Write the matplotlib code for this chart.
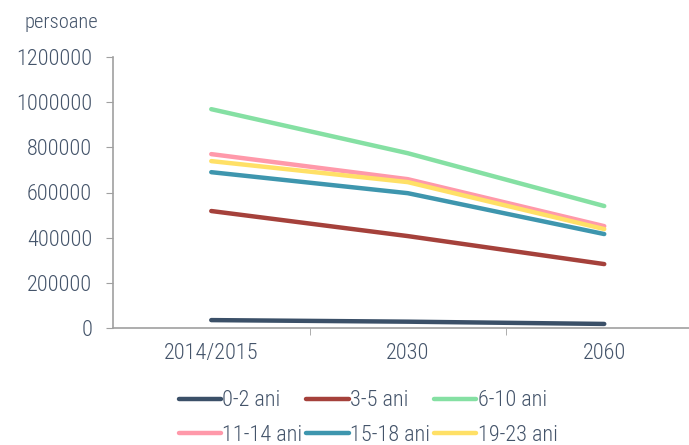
import matplotlib.pyplot as plt
from matplotlib import font_manager

# data
years = ["2014/2015", "2030", "2060"]
labels = ["0-2 ani", "3-5 ani", "6-10 ani", "11-14 ani", "15-18 ani", "19-23 ani"]
age_0_2 = [35000, 28000, 18000]
age_3_5 = [518000, 407000, 283000]
age_6_10 = [969000, 774000, 540000]
age_11_14 = [770000, 659000, 451000]
age_15_18 = [690000, 597000, 416000]
age_19_23 = [739000, 646000, 438000]
colors = ["#3B5068", "#A5413B", "#85E0A3", "#FF99AA", "#3E96AE", "#FFE066"]

series = [age_0_2, age_3_5, age_6_10, age_11_14, age_15_18, age_19_23]

names = set(f.name for f in font_manager.fontManager.ttflist)
fam = [n for n in ['Roboto Condensed', 'Liberation Sans Narrow', 'Roboto'] if n in names]
plt.rcParams['font.family'] = fam + ['DejaVu Sans']
plt.rcParams['font.weight'] = 'light'
txt = "#44546A"

fig = plt.figure(figsize=(6.89, 4.45), dpi=100)
ax = fig.add_axes([113/689, (445-328)/445, 589.5/689, 271/445])

x = range(len(years))
for vals, lab, c in zip(series, labels, colors):
    ax.plot(x, vals, color=c, lw=3.2, solid_capstyle="round", label=lab)

ax.set_xlim(-0.5, 2.5)
ax.set_ylim(0, 1200000)
ax.set_yticks(range(0, 1200001, 200000))
ax.set_yticklabels([str(v) for v in range(0, 1200001, 200000)])
ax.set_xticks(x)
ax.set_xticklabels(years)
ax.set_xticks([0.5, 1.5], minor=True)
ax.tick_params(axis="x", which="major", length=0, pad=11, labelsize=16, labelcolor=txt)
ax.tick_params(axis="x", which="minor", length=5, color="#A0A0A0")
ax.tick_params(axis="y", length=5, color="#A0A0A0", labelsize=16, labelcolor=txt, pad=10)

for s in ["top", "right"]:
    ax.spines[s].set_visible(False)
for s in ["left", "bottom"]:
    ax.spines[s].set_color("#A0A0A0")
    ax.spines[s].set_linewidth(1.2)

fig.text(25/689, 1 - 22/445, "persoane", color=txt, fontsize=14.8, va="center")

# legend fills column-wise, reorder so rows read like the original
handles, labs = ax.get_legend_handles_labels()
order = [0, 3, 1, 4, 2, 5]
leg = fig.legend([handles[i] for i in order], [labs[i] for i in order],
                 loc="center", bbox_to_anchor=(368/689, 1 - 418/445),
                 ncol=3, frameon=False, fontsize=16, handlelength=1.9,
                 handletextpad=0.05, columnspacing=0.2, labelspacing=0.6)
for t in leg.get_texts():
    t.set_color(txt)

fig.savefig("out.png", dpi=100)
